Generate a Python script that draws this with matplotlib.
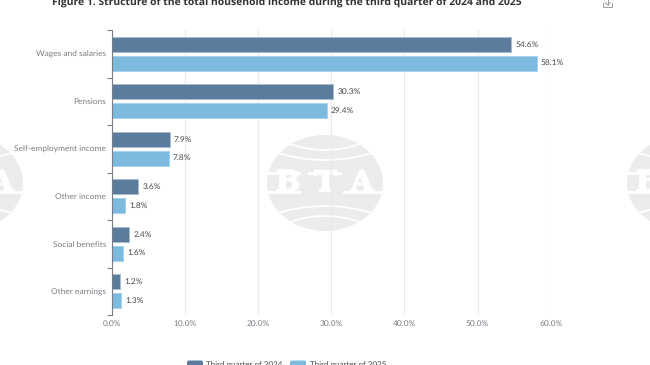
import matplotlib
matplotlib.use("Agg")
import matplotlib.pyplot as plt
import matplotlib.patheffects as pe
from matplotlib.patches import Ellipse, FancyBboxPatch, Rectangle
import numpy as np

plt.rcParams['font.family'] = ['Lato', 'DejaVu Sans']
plt.rcParams['text.hinting'] = 'no_hinting'

categories = ['Wages and salaries', 'Pensions', 'Self-employment income', 'Other income', 'Social benefits', 'Other earnings']
q3_2024 = [54.6, 30.3, 7.9, 3.6, 2.4, 1.2]
q3_2025 = [58.1, 29.4, 7.8, 1.8, 1.6, 1.3]
xticks = [0, 10, 20, 30, 40, 50, 60]
title = 'Figure 1. Structure of the total household income during the third quarter of 2024 and 2025'
series_names = ['Third quarter of 2024', 'Third quarter of 2025']

W, H = 650, 365
dark = '#5b7c9d'
light = '#7cbade'
grid = '#e8eaf3'
axis_col = '#7b7d86'
label_col = '#4a4a4a'
fs = 6.0

fig = plt.figure(figsize=(W/100, H/100), dpi=100, facecolor='white')

# whole-figure layer in pixels, for the watermark and the icon
bg = fig.add_axes([0, 0, 1, 1], zorder=0)
bg.set_xlim(0, W)
bg.set_ylim(H, 0)
bg.axis('off')

wm = '#ececec'
for cx in [-35, 325, 685]:
    globe = Ellipse((cx, 183), 116, 96, fc=wm, ec='none')
    bg.add_patch(globe)
    # white arcs, bulging towards the middle
    t = np.linspace(-1, 1, 40)
    for half, end, mid in [(50, 31, 23), (40, 41, 33)]:
        for sign in [-1, 1]:
            arc, = bg.plot(cx + t*half, 183 + sign*(mid + (end-mid)*t**2), color='white', lw=1.3)
            arc.set_clip_path(globe)
    # agency letters, white on the globe, with their wide slab serifs
    for dx, letter in zip([-37, 0, 37], 'BTA'):
        bg.text(cx+dx, 183, letter, color='white', fontsize=21, fontweight='bold', ha='center', va='center',
                family='DejaVu Serif', path_effects=[pe.withStroke(linewidth=1.0, foreground='white')])
    for x0, y0, w in [(-60, 172, 36), (-60, 191, 36), (-17, 172, 34), (18, 191, 42)]:
        bg.add_patch(Rectangle((cx+x0, y0), w, 3, fc='white', ec='none'))

ax = fig.add_axes([111.7/W, 1-315/H, (550.7-111.7)/W, 285/H], zorder=1)
ax.patch.set_alpha(0)
ax.set_xlim(0, 60)
ax.set_ylim(6, 0)

y = np.arange(len(categories)) + 0.5
bar_h = 15/47.5
gap = 9.4/47.5
ax.barh(y-gap, q3_2024, bar_h, color=dark, edgecolor='#a9bccd', linewidth=0.7, zorder=3, label=series_names[0])
ax.barh(y+gap, q3_2025, bar_h, color=light, edgecolor='#a5d2ec', linewidth=0.7, zorder=3, label=series_names[1])

for yy, v in zip(y-gap, q3_2024):
    ax.annotate(f'{v}%', (v, yy), xytext=(3, 0), textcoords='offset points', va='center', fontsize=fs, color=label_col)
for yy, v in zip(y+gap, q3_2025):
    ax.annotate(f'{v}%', (v, yy), xytext=(3, 0), textcoords='offset points', va='center', fontsize=fs, color=label_col)

ax.set_xticks(xticks)
ax.set_xticklabels([f'{t}.0%' for t in xticks], fontsize=fs, color=axis_col)
ax.set_yticks(range(7), minor=True)
ax.set_yticks(y)
ax.set_yticklabels(categories, fontsize=fs, color=axis_col)
ax.tick_params(axis='y', which='major', length=0, pad=4)
ax.tick_params(axis='y', which='minor', length=3.5, width=0.8, color=axis_col)
ax.tick_params(axis='x', length=0, pad=3.5)
ax.grid(axis='x', color=grid, lw=0.9, zorder=0)
ax.set_axisbelow(True)
for s in ['top', 'right', 'bottom']:
    ax.spines[s].set_visible(False)
ax.spines['left'].set_color(axis_col)
ax.spines['left'].set_linewidth(0.8)
ax.spines['left'].set_zorder(5)

# title is cut by the top edge of the image
fig.text(286.5/W, 1-2.5/H, title, fontsize=7.5, fontweight='bold', color='#333333', ha='center', va='center',
         family='Open Sans')

# legend, cut by the bottom edge
for x0, c, name in [(187, dark, series_names[0]), (290, light, series_names[1])]:
    bg.add_patch(FancyBboxPatch((x0, 360.5), 16, 8, boxstyle='round,pad=0,rounding_size=2', fc=c, ec='none'))
    bg.text(x0+19.5, 365, name, fontsize=5.8, color=label_col, va='center')

# download icon
ic = '#9a9ea5'
bg.plot([603, 603, 612, 612], [3, 7, 7, 3], color=ic, lw=0.7)
bg.plot([607.5, 607.5], [0, 5], color=ic, lw=0.7)
bg.plot([605, 607.5, 610], [2.5, 5, 2.5], color=ic, lw=0.7)

fig.savefig('out.png', dpi=100)
